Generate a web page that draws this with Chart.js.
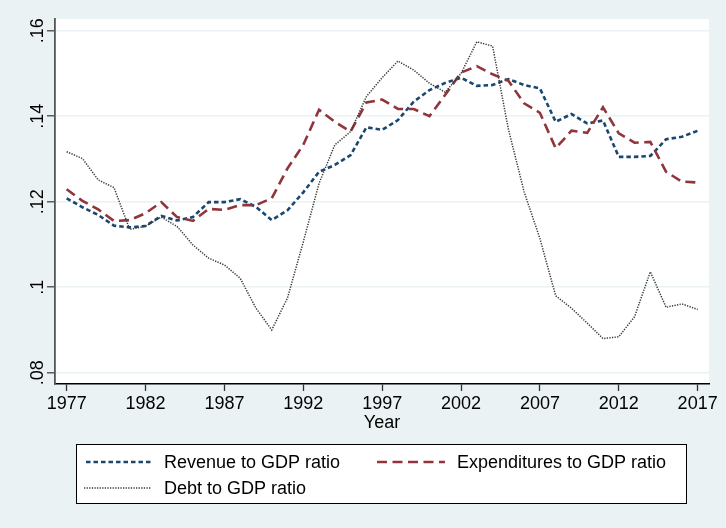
<!DOCTYPE html>
<html>
<head>
<meta charset="utf-8">
<script src="https://cdn.jsdelivr.net/npm/chart.js@4.4.0/dist/chart.umd.min.js"></script>
<style>
  html, body { margin: 0; padding: 0; background: #EAF2F3; }
  canvas { display: block; }
</style>
</head>
<body>
<canvas id="c" width="726" height="528"></canvas>
<script>
const years = [1977,1978,1979,1980,1981,1982,1983,1984,1985,1986,1987,1988,1989,1990,1991,1992,1993,1994,1995,1996,1997,1998,1999,2000,2001,2002,2003,2004,2005,2006,2007,2008,2009,2010,2011,2012,2013,2014,2015,2016,2017];
const revenue = [.1208,.1187,.1169,.1144,.1140,.1143,.1167,.1156,.1164,.1199,.1199,.1206,.1188,.1157,.1180,.1222,.1270,.1286,.1309,.1374,.1368,.1391,.1434,.1461,.1478,.1490,.1471,.1473,.1487,.1473,.1465,.1387,.1405,.1383,.1390,.1305,.1305,.1307,.1346,.1352,.1366];
const expenditures = [.1229,.1202,.1182,.1155,.1157,.1173,.1199,.1164,.1155,.1183,.1181,.1192,.1192,.1208,.1278,.1333,.1415,.1387,.1364,.1432,.1439,.1417,.1417,.1400,.1450,.1502,.1517,.1498,.1483,.1430,.1408,.1325,.1366,.1361,.1421,.1360,.1338,.1340,.1270,.1247,.1245];
const debt = [.1317,.1301,.1251,.1233,.1135,.1143,.1164,.1142,.1099,.1068,.1052,.1021,.0951,.0900,.0975,.1106,.1243,.1333,.1364,.1446,.1490,.1529,.1508,.1477,.1456,.1500,.1574,.1564,.1370,.1223,.1114,.0980,.0951,.0916,.0880,.0884,.0931,.1036,.0953,.0961,.0948];
const xTicks = [1977,1982,1987,1992,1997,2002,2007,2012,2017];
const yTicks = [0.08,0.10,0.12,0.14,0.16];
const yTickLabels = ['.08','.1','.12','.14','.16'];
const seriesLabels = ['Revenue to GDP ratio','Expenditures to GDP ratio','Debt to GDP ratio'];

const FONT = '"Liberation Sans", Arial, Helvetica, sans-serif';
const BG = '#EAF2F3';

const toPts = arr => years.map((y, i) => ({x: y, y: arr[i]}));

const bgPlugin = {
  id: 'bg',
  beforeDraw(chart) {
    const {ctx, chartArea: a} = chart;
    ctx.save();
    ctx.fillStyle = BG;
    ctx.fillRect(0, 0, chart.width, chart.height);
    ctx.fillStyle = '#fff';
    ctx.fillRect(a.left, a.top, a.right - a.left, a.bottom - a.top);
    ctx.restore();
  },
  afterDraw(chart) {
    const {ctx, chartArea: a} = chart;
    const ys = chart.scales.y;
    ctx.save();
    ctx.fillStyle = '#000';
    ctx.font = '18px ' + FONT;
    ctx.textAlign = 'center';
    ctx.textBaseline = 'middle';
    yTicks.forEach((v, i) => {
      const py = ys.getPixelForValue(v);
      ctx.save();
      ctx.translate(37, py);
      ctx.rotate(-Math.PI / 2);
      ctx.fillText(yTickLabels[i], 0, 1);
      ctx.restore();
    });
    ctx.fillText('Year', (a.left + a.right) / 2, 423);
    ctx.fillStyle = '#fff';
    ctx.fillRect(76, 444, 611, 60);
    ctx.strokeStyle = '#000';
    ctx.lineWidth = 1;
    ctx.strokeRect(76.5, 444.5, 610, 59);
    const items = [
      {ds: 0, x1: 86, x2: 151, tx: 164, y: 462},
      {ds: 1, x1: 377, x2: 445, tx: 457, y: 462},
      {ds: 2, x1: 84, x2: 151, tx: 164, y: 488}
    ];
    items.forEach(it => {
      const d = chart.data.datasets[it.ds];
      ctx.save();
      ctx.strokeStyle = d.borderColor;
      ctx.lineWidth = d.borderWidth;
      ctx.setLineDash(d.borderDash);
      ctx.beginPath();
      ctx.moveTo(it.x1, it.y);
      ctx.lineTo(it.x2, it.y);
      ctx.stroke();
      ctx.restore();
      ctx.fillStyle = '#000';
      ctx.textAlign = 'left';
      ctx.textBaseline = 'middle';
      ctx.fillText(d.label, it.tx, it.y + 1);
    });
    ctx.restore();
  }
};

new Chart(document.getElementById('c'), {
  type: 'line',
  data: {
    datasets: [
      {label: seriesLabels[0], data: toPts(revenue), borderColor: '#1A476F', borderWidth: 2.6, borderDash: [4.5, 3], pointRadius: 0, tension: 0, fill: false, order: 3},
      {label: seriesLabels[1], data: toPts(expenditures), borderColor: '#90353B', borderWidth: 2.6, borderDash: [10, 5.5], pointRadius: 0, tension: 0, fill: false, order: 2},
      {label: seriesLabels[2], data: toPts(debt), borderColor: '#3a3a3a', borderWidth: 1.5, borderDash: [1.3, 1.3], pointRadius: 0, tension: 0, fill: false, order: 1}
    ]
  },
  options: {
    responsive: false,
    animation: false,
    devicePixelRatio: 1,
    layout: {padding: {top: 19, right: 17, left: 0, bottom: 0}},
    plugins: {legend: {display: false}, tooltip: {enabled: false}},
    scales: {
      x: {
        type: 'linear',
        min: 1976.26,
        max: 2017.72,
        afterBuildTicks: s => { s.ticks = xTicks.map(v => ({value: v})); },
        afterFit: s => { s.height = 144; },
        grid: {drawOnChartArea: false, drawTicks: true, tickLength: 7, tickColor: '#333', tickWidth: 1.3},
        border: {display: true, color: '#000', width: 1.5},
        ticks: {
          autoSkip: false, maxRotation: 0, minRotation: 0, padding: 2,
          color: '#000', font: {family: FONT, size: 18},
          callback: v => String(v)
        }
      },
      y: {
        type: 'linear',
        min: 0.07736,
        max: 0.16274,
        afterBuildTicks: s => { s.ticks = yTicks.map(v => ({value: v})); },
        afterFit: s => { s.width = 55; },
        grid: {color: BG, lineWidth: 1.6, drawTicks: true, tickLength: 8, tickColor: '#444', tickWidth: 1.3},
        border: {display: true, color: '#555', width: 1.8},
        ticks: {display: false}
      }
    }
  },
  plugins: [bgPlugin]
});
</script>
</body>
</html>
